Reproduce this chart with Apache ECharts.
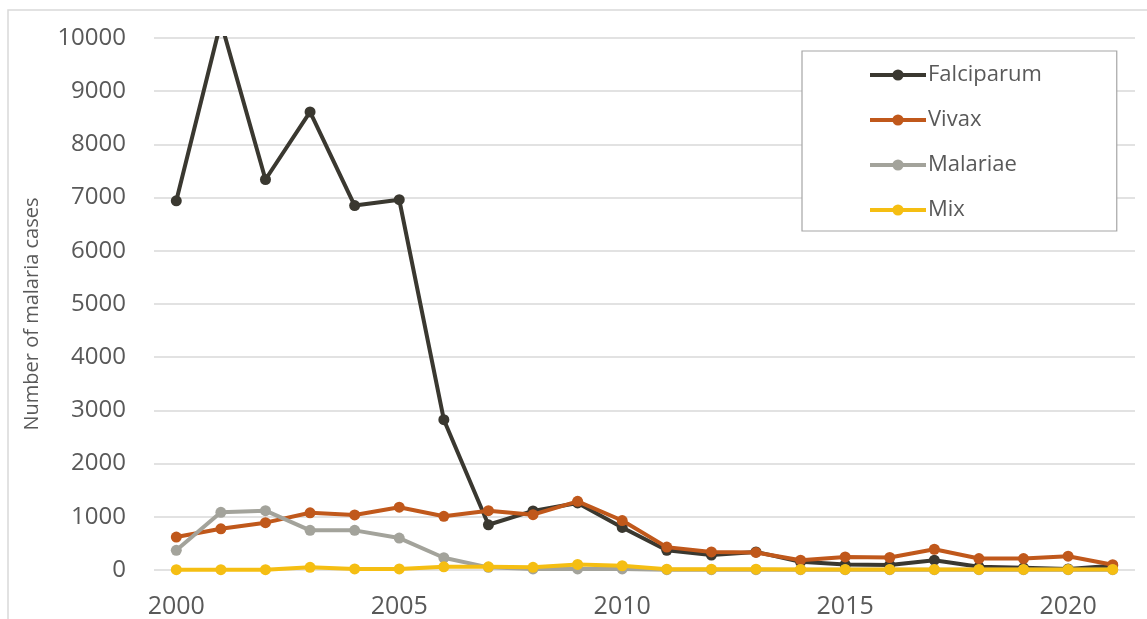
<!DOCTYPE html>
<html>
<head>
<meta charset="utf-8">
<script src="https://cdn.jsdelivr.net/npm/echarts@6/dist/echarts.min.js"></script>
<style>
  html, body { margin: 0; padding: 0; background: #ffffff; }
  #chart { width: 1147px; height: 619px; }
</style>
</head>
<body>
<div id="chart"></div>
<script>
// Reported malaria cases by parasite species, 2000-2021
const years = ['2000','2001','2002','2003','2004','2005','2006','2007','2008','2009','2010',
               '2011','2012','2013','2014','2015','2016','2017','2018','2019','2020','2021'];
const falciparum = [6940, 10300, 7340, 8610, 6850, 6960, 2825, 850, 1110, 1260, 800,
                    370, 280, 340, 155, 105, 95, 185, 60, 40, 20, 80];
const vivax      = [620, 775, 890, 1075, 1035, 1180, 1010, 1115, 1040, 1290, 930,
                    430, 340, 330, 185, 245, 235, 390, 215, 215, 260, 100];
const malariae   = [370, 1085, 1115, 745, 745, 600, 230, 50, 20, 20, 20,
                    5, 5, 5, 5, 5, 5, 5, 5, 5, 5, 5];
const mix        = [5, 5, 5, 50, 20, 20, 60, 60, 50, 105, 80,
                    15, 15, 15, 10, 10, 10, 10, 10, 10, 10, 10];

const seriesNames  = ['Falciparum', 'Vivax', 'Malariae', 'Mix'];
const seriesData   = [falciparum, vivax, malariae, mix];
const seriesColors = ['#3a3830', '#c0581b', '#a3a39b', '#f5be12'];

const FONT = '"Open Sans", "Liberation Sans", sans-serif';
const TEXT = '#595959';

const chart = echarts.init(document.getElementById('chart'), null, { renderer: 'canvas' });

chart.setOption({
  animation: false,
  backgroundColor: '#ffffff',
  graphic: [{
    type: 'rect',
    shape: { x: 8, y: 10, width: 1160, height: 640 },
    style: { fill: 'none', stroke: '#d9d9d9', lineWidth: 1.5 },
    z: -1
  }],
  grid: { left: 154, right: 12, top: 38, bottom: 44, containLabel: false },
  legend: {
    orient: 'vertical',
    left: 802,
    top: 51,
    padding: [13, 75, 10, 66],
    itemGap: 23,
    itemWidth: 56,
    itemHeight: 14,
    backgroundColor: '#ffffff',
    borderColor: '#a6a6a6',
    borderWidth: 1.2,
    lineStyle: { width: 4 },
    textStyle: { fontFamily: FONT, fontSize: 22, color: TEXT, padding: [0, 0, 0, -3] },
    data: seriesNames
  },
  xAxis: {
    type: 'category',
    data: years,
    boundaryGap: true,
    axisLine: { show: false },
    axisTick: { show: false },
    axisLabel: {
      interval: 4,
      margin: 24,
      fontFamily: FONT,
      fontSize: 25,
      color: TEXT
    },
    splitLine: { show: false }
  },
  yAxis: {
    type: 'value',
    min: 0,
    max: 10000,
    interval: 1000,
    name: 'Number of malaria cases',
    nameLocation: 'middle',
    nameGap: 112,
    nameTextStyle: { fontFamily: FONT, fontSize: 20, color: TEXT, padding: [0, 0, 0, -20] },
    axisLine: { show: false },
    axisTick: { show: false },
    axisLabel: {
      margin: 28,
      fontFamily: FONT,
      fontSize: 24,
      color: TEXT,
      formatter: (v) => String(v)
    },
    splitLine: { lineStyle: { color: '#d9d9d9', width: 1.5 } }
  },
  series: seriesNames.map((name, i) => ({
    name,
    type: 'line',
    data: seriesData[i],
    clip: true,
    symbol: 'circle',
    symbolSize: 11,
    color: seriesColors[i],
    lineStyle: { width: 4, color: seriesColors[i] },
    itemStyle: { color: seriesColors[i] },
    z: 2 + i
  }))
});
</script>
</body>
</html>
